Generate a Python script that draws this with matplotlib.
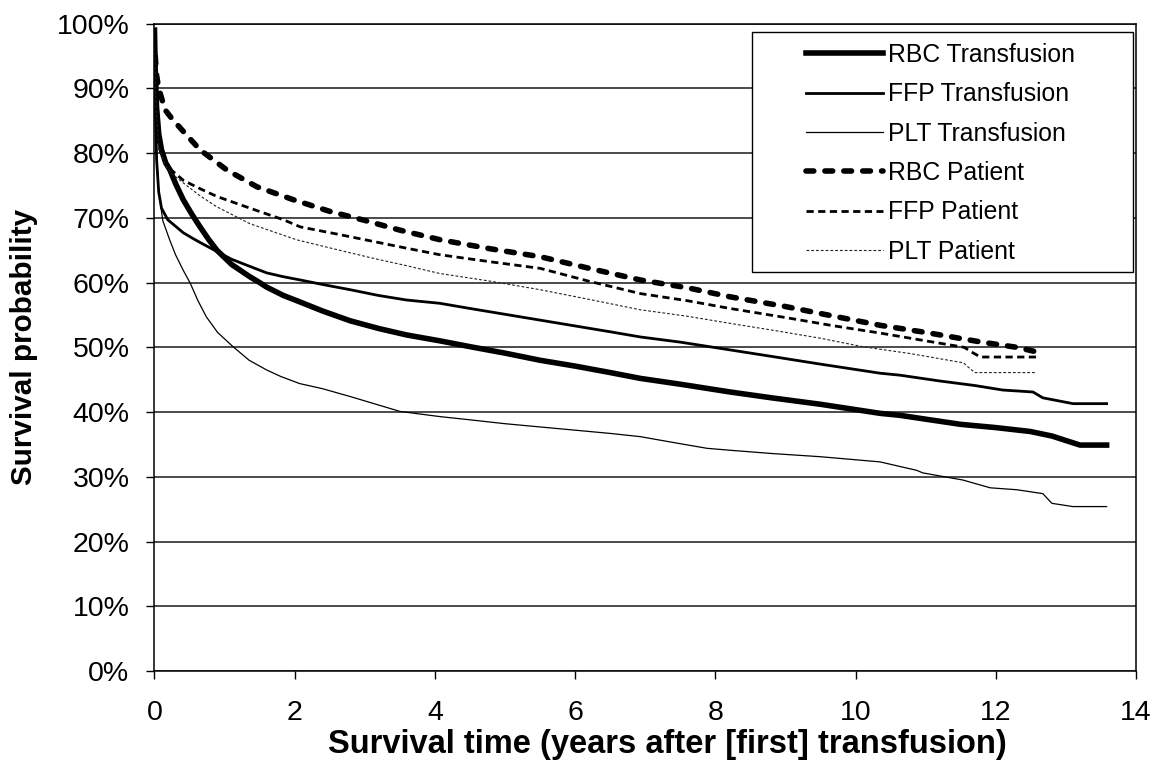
import matplotlib
matplotlib.use("Agg")
import matplotlib.pyplot as plt
from matplotlib.patches import Rectangle
from matplotlib.ticker import PercentFormatter

plt.rcParams["font.family"] = ["Liberation Sans", "DejaVu Sans"]

# Kaplan-Meier survival curves (years after first transfusion, % surviving)
rbc_tx_t = [0, 0.01, 0.03, 0.06, 0.1, 0.16, 0.22, 0.3, 0.41, 0.53, 0.65, 0.77, 0.89, 1.1, 1.36,
            1.5, 1.6, 1.84, 2.03, 2.4, 2.79, 3.2, 3.6, 4.07, 4.5, 5.0, 5.5, 6.0, 6.5, 6.93, 7.5,
            8.21, 8.8, 9.5, 10.35, 10.63, 11.0, 11.5, 12.0, 12.49, 12.8, 13.2, 13.58]
rbc_tx = [99, 93, 87, 83, 80.5, 78.5, 77.4, 75.3, 72.8, 70.6, 68.6, 66.7, 65.0, 62.8, 60.9,
          60.0, 59.3, 58.0, 57.2, 55.6, 54.1, 52.9, 51.9, 51.0, 50.1, 49.1, 48.0, 47.1, 46.1, 45.2, 44.3,
          43.1, 42.2, 41.2, 39.8, 39.5, 38.9, 38.1, 37.6, 37.0, 36.3, 34.9, 34.9]

ffp_tx_t = [0, 0.01, 0.03, 0.06, 0.1, 0.19, 0.3, 0.41, 0.55, 0.7, 0.89, 1.1, 1.36, 1.6, 1.84,
            2.08, 2.4, 2.79, 3.2, 3.6, 4.07, 4.5, 5.0, 5.5, 6.0, 6.5, 6.93, 7.5, 8.21, 8.8, 9.5,
            10.35, 10.63, 11.2, 11.7, 12.1, 12.53, 12.67, 13.1, 13.58]
ffp_tx = [98, 88, 79, 74, 71.5, 69.7, 68.7, 67.7, 66.8, 65.9, 64.8, 63.6, 62.5, 61.5, 60.9,
          60.4, 59.7, 58.9, 58.0, 57.3, 56.8, 56.0, 55.1, 54.2, 53.3, 52.4, 51.6, 50.8, 49.6, 48.6, 47.4,
          46.0, 45.7, 44.8, 44.1, 43.4, 43.1, 42.2, 41.3, 41.3]

plt_tx_t = [0, 0.01, 0.03, 0.06, 0.12, 0.22, 0.3, 0.41, 0.51, 0.62, 0.74, 0.9, 1.12, 1.35, 1.6,
            1.8, 2.07, 2.4, 2.79, 3.1, 3.5, 4.07, 4.5, 5.0, 5.5, 6.0, 6.5, 6.93, 7.4, 7.88, 8.21,
            8.8, 9.5, 10.35, 10.63, 10.87, 10.96, 11.53, 11.92, 12.3, 12.67, 12.8, 13.1, 13.58]
plt_tx = [97, 88, 80, 74, 69.5, 66.5, 64.3, 61.9, 59.9, 57.2, 54.7, 52.3, 50.1, 48.0, 46.5,
          45.5, 44.4, 43.6, 42.4, 41.4, 40.1, 39.3, 38.8, 38.2, 37.7, 37.2, 36.7, 36.2, 35.3, 34.4, 34.1,
          33.6, 33.1, 32.3, 31.6, 31.0, 30.6, 29.5, 28.3, 28.0, 27.4, 25.9, 25.4, 25.4]

rbc_pt_t = [0.01, 0.03, 0.06, 0.15, 0.25, 0.39, 0.65, 1.03, 1.46, 1.98, 2.5, 3.0, 3.5, 4.08, 4.8,
            5.5, 6.2, 6.93, 7.6, 8.21, 9.0, 9.6, 10.35, 11.0, 11.8, 12.3, 12.58]
rbc_pt = [95, 92, 90, 86.7, 85.3, 83.6, 80.5, 77.4, 74.8, 72.8, 71.0, 69.6, 68.1, 66.6, 65.2,
          64.0, 62.2, 60.4, 59.2, 57.8, 56.3, 55.0, 53.4, 52.3, 50.8, 50.0, 49.3]

ffp_pt_t = [0, 0.02, 0.06, 0.15, 0.25, 0.41, 0.65, 0.89, 1.36, 1.84, 2.08, 2.6, 3.1, 3.6, 4.07,
            4.8, 5.5, 6.2, 6.93, 7.6, 8.21, 9.0, 9.7, 10.35, 11.0, 11.55, 11.65, 11.78, 12.1, 12.58]
ffp_pt = [97, 87, 81, 78.5, 77.3, 75.8, 74.5, 73.3, 71.5, 69.7, 68.6, 67.5, 66.4, 65.3, 64.3,
          63.2, 62.2, 60.2, 58.3, 57.2, 56.0, 54.6, 53.3, 52.2, 51.0, 50.0, 49.3, 48.5, 48.5, 48.5]

plt_pt_t = [0, 0.02, 0.06, 0.15, 0.25, 0.41, 0.65, 0.89, 1.36, 2.03, 2.6, 3.1, 3.6, 4.07, 4.8,
            5.5, 6.2, 6.93, 7.6, 8.21, 8.9, 9.5, 10.1, 10.8, 11.54, 11.6, 11.7, 12.58]
plt_pt = [97, 87, 81, 78.2, 76.8, 75.4, 73.4, 71.7, 69.1, 66.6, 65.1, 63.8, 62.6, 61.4, 60.2,
          58.9, 57.4, 55.8, 54.8, 53.7, 52.5, 51.4, 50.1, 49.0, 47.6, 47.0, 46.1, 46.1]

labels = ["RBC Transfusion", "FFP Transfusion", "PLT Transfusion",
          "RBC Patient", "FFP Patient", "PLT Patient"]

fig = plt.figure(figsize=(11.59, 7.62), dpi=100)
ax = fig.add_axes([0.1333, 0.1194, 0.8469, 0.8496])

ax.plot(rbc_tx_t, rbc_tx, color="black", lw=4.0, label=labels[0])
ax.plot(ffp_tx_t, ffp_tx, color="black", lw=2.0, label=labels[1])
ax.plot(plt_tx_t, plt_tx, color="black", lw=0.9, label=labels[2])
ax.plot(rbc_pt_t, rbc_pt, color="black", lw=4.0, ls=(0, (1.4, 2.0)),
        dash_capstyle="round", label=labels[3])
ax.plot(ffp_pt_t, ffp_pt, color="black", lw=2.0, ls=(0, (2.6, 1.6)), label=labels[4])
ax.plot(plt_pt_t, plt_pt, color="#222222", lw=0.8, ls=(0, (2.5, 1.8)), label=labels[5])

ax.set_xlim(0, 14)
ax.set_ylim(0, 100)
ax.set_xticks(range(0, 15, 2))
ax.set_yticks(range(0, 101, 10))
ax.yaxis.set_major_formatter(PercentFormatter(decimals=0))
ax.tick_params(direction="out", length=6, width=1, labelsize=20.5, color="black")
ax.tick_params(axis="x", pad=15)
ax.tick_params(axis="y", pad=12)
ax.grid(axis="y", color="#1a1a1a", lw=1.1)
for s in ax.spines.values():
    s.set_color("black")
    s.set_linewidth(1.1)

ax.set_xlabel("Survival time (years after [first] transfusion)", fontsize=23.5, fontweight="bold")
ax.set_ylabel("Survival probability", fontsize=21.3, fontweight="bold")
ax.xaxis.set_label_coords(0.523, -0.0896)
ax.yaxis.set_label_coords(-0.1187, 0.5)

# legend box with the entries placed inside it
box = Rectangle((752 / 1159, 1 - 272 / 762), 381 / 1159, 240 / 762, transform=fig.transFigure,
                facecolor="white", edgecolor="black", lw=1.0, zorder=4)
fig.patches.append(box)
fig.legend(*ax.get_legend_handles_labels(), loc="upper left",
           bbox_to_anchor=(806 / 1159, 1 - 43 / 762), bbox_transform=fig.transFigure,
           frameon=False, fontsize=17.8, handlelength=3.1, handletextpad=0.2,
           labelspacing=0.62, borderpad=0, borderaxespad=0)

fig.savefig("out.png", dpi=100)
